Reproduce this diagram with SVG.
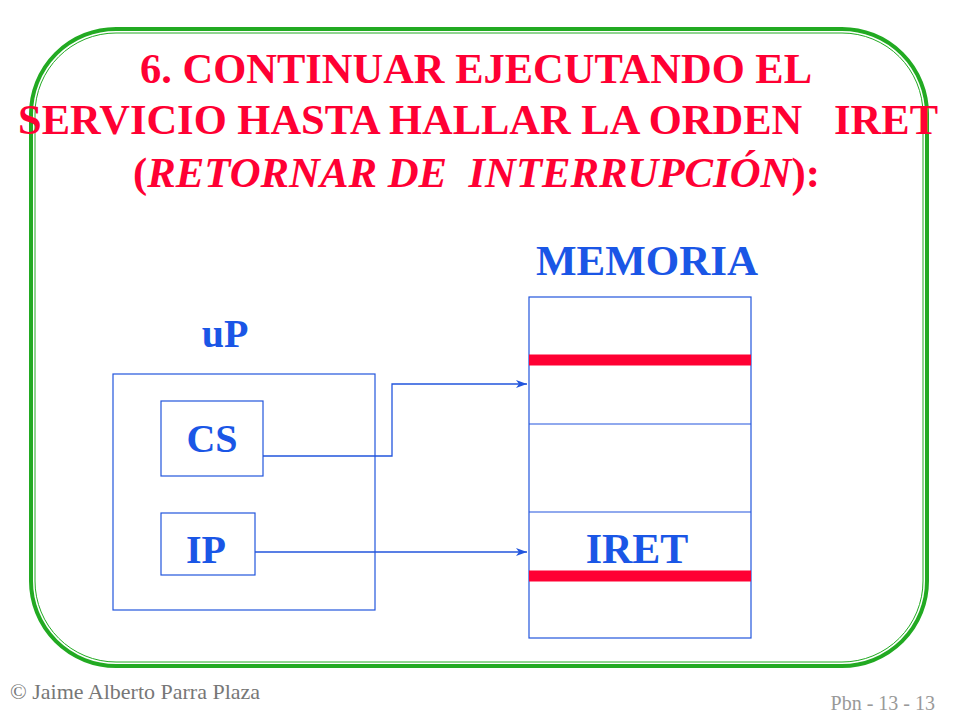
<svg xmlns="http://www.w3.org/2000/svg" width="960" height="720" viewBox="0 0 960 720">
<style>
.t{font-family:"Liberation Serif",serif;font-weight:bold;fill:#ff0033;font-size:42px;white-space:pre}
.b{font-family:"Liberation Serif",serif;font-weight:bold;fill:#1a56e6;text-anchor:middle}
.box{fill:none;stroke:#2255dd;stroke-width:1.2}
.red{stroke:#ff0033;stroke-width:11}
.c{fill:none;stroke:#2255dd;stroke-width:1.3}
</style>
<defs><marker id="a" markerWidth="12" markerHeight="8" refX="11" refY="4" orient="auto" markerUnits="userSpaceOnUse"><path d="M0,0 L11,4 L0,8 L3,4 Z" fill="#2255dd"/></marker></defs>
<rect x="31" y="29" width="896" height="637" rx="85" fill="none" stroke="#22aa22" stroke-width="4"/>
<rect x="35" y="33" width="888" height="629" rx="81" fill="none" stroke="#22aa22" stroke-width="1"/>
<text class="t" x="140" y="83" textLength="672" lengthAdjust="spacingAndGlyphs">6. CONTINUAR EJECUTANDO EL</text>
<text class="t" x="18" y="134" textLength="920" lengthAdjust="spacingAndGlyphs" xml:space="preserve">SERVICIO HASTA HALLAR LA ORDEN   IRET</text>
<text class="t" x="133" y="187" textLength="687" lengthAdjust="spacingAndGlyphs" xml:space="preserve">(<tspan font-style="italic">RETORNAR DE  INTERRUPCIÓN</tspan>):</text>
<g id="memoria">
<text class="b" x="647" y="275" font-size="43">MEMORIA</text>
<rect class="box" x="529" y="297" width="222" height="341"/>
<line class="box" x1="529" y1="424" x2="751" y2="424"/>
<line class="box" x1="529" y1="512" x2="751" y2="512"/>
<line class="red" x1="529" y1="360" x2="751" y2="360"/>
<line class="red" x1="529" y1="576" x2="751" y2="576"/>
<text class="b" x="637" y="563" font-size="42">IRET</text>
</g>
<g id="up">
<text class="b" x="225" y="347" font-size="40">uP</text>
<rect class="box" x="113" y="374" width="262" height="236"/>
</g>
<g id="cs"><rect class="box" x="161" y="401" width="102" height="75"/><text class="b" x="212" y="452" font-size="40">CS</text></g>
<g id="ip"><rect class="box" x="161" y="513" width="94" height="62"/><text class="b" x="206" y="563" font-size="40">IP</text></g>
<g id="connectors">
<path class="c" d="M263,456 H392 V384 H527" marker-end="url(#a)"/>
<path class="c" d="M255,552 H527" marker-end="url(#a)"/>
</g>
<text x="10" y="699" font-family="Liberation Serif,serif" font-size="22" fill="#777">© Jaime Alberto Parra Plaza</text>
<text x="935" y="710" font-family="Liberation Serif,serif" font-size="20" fill="#999" text-anchor="end">Pbn - 13 - 13</text>
</svg>
